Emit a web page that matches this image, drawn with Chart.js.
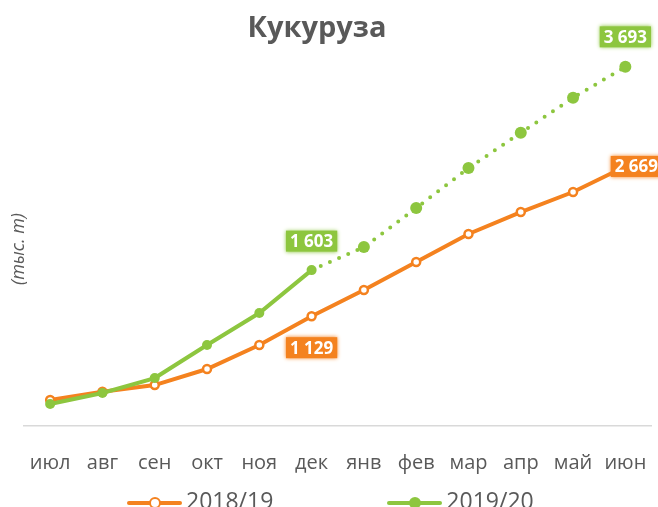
<!DOCTYPE html>
<html>
<head>
<meta charset="utf-8">
<script src="https://cdn.jsdelivr.net/npm/chart.js"></script>
<style>
  body { margin: 0; background: #fff; }
  #wrap { position: relative; width: 658px; height: 507px; overflow: hidden; }
  #legend { position: absolute; left: 127px; top: 491px; display: flex; gap: 114px;
            font: 23px/23px 'Open Sans', sans-serif; color: #595959; }
  .item { display: flex; align-items: center; height: 23px; }
  .item span.txt { position: relative; top: -2px; white-space: nowrap; }
  .swatch { position: relative; width: 55px; height: 4px; margin-right: 4px; border-radius: 2px; }
  .swatch i { position: absolute; left: 50%; top: 50%; border-radius: 50%; transform: translate(-50%, -50%); box-sizing: border-box; }
</style>
</head>
<body>
<div id="wrap">
  <canvas id="grafico" width="658" height="507"></canvas>
  <div id="legend"></div>
</div>
<script>
// Данные (тыс. т), накопленным итогом по месяцам сезона
const months = ['июл', 'авг', 'сен', 'окт', 'ноя', 'дек', 'янв', 'фев', 'мар', 'апр', 'май', 'июн'];
const seriesNames = ['2018/19', '2019/20'];
const values1819 = [267, 353, 421, 586, 833, 1129, 1398, 1686, 1974, 2200, 2406, 2669];
const values1920 = [226, 339, 493, 833, 1162, 1603, 1840, 2241, 2652, 3015, 3375, 3693];
const forecastFrom = 5;      // с этого месяца 2019/20 - прогноз (пунктир)
const labelledMonths = [5, 11];

const ORANGE = '#F4821F';
const GREEN = '#8DC63F';
const GREY = '#595959';

Chart.defaults.font.family = "'Open Sans', sans-serif";

const fmt = v => String(v).replace(/\B(?=(\d{3})+(?!\d))/g, ' ');

// подписи значений в цветных плашках
const valueTags = {
    id: 'valueTags',
    afterDatasetsDraw(chart, args, opts) {
        const ctx = chart.ctx;
        ctx.save();
        ctx.font = 'bold 17px "Open Sans", sans-serif';
        ctx.textAlign = 'center';
        ctx.textBaseline = 'middle';
        chart.data.datasets.forEach((ds, di) => {
            const place = opts.place[di];
            const meta = chart.getDatasetMeta(di);
            labelledMonths.forEach(i => {
                const pt = meta.data[i];
                const [dx, dy] = place[i];
                const text = fmt(ds.data[i]);
                const w = ctx.measureText(text).width + 8;
                const h = 21;
                const cx = pt.x + dx, cy = pt.y + dy;
                ctx.fillStyle = ds.borderColor;
                ctx.shadowColor = ds.borderColor;
                ctx.shadowBlur = 4;
                ctx.fillRect(cx - w / 2, cy - h / 2, w, h);
                ctx.shadowBlur = 0;
                ctx.fillStyle = '#fff';
                ctx.fillText(text, cx, cy + 1);
            });
        });
        ctx.restore();
    }
};

new Chart(document.getElementById('grafico'), {
    type: 'line',
    data: {
        labels: months,
        datasets: [
            {
                label: seriesNames[1],
                data: values1920,
                borderColor: GREEN,
                backgroundColor: GREEN,
                borderWidth: 4,
                borderCapStyle: 'round',
                pointRadius: c => c.dataIndex > forecastFrom ? 6 : 5,
                pointBorderWidth: 0,
                pointBackgroundColor: GREEN,
                segment: {
                    borderDash: c => c.p0DataIndex >= forecastFrom ? [0, 10] : undefined
                },
                tension: 0
            },
            {
                label: seriesNames[0],
                data: values1819,
                borderColor: ORANGE,
                backgroundColor: '#fff',
                borderWidth: 4,
                pointRadius: 4,
                pointBorderWidth: 2.5,
                pointBorderColor: ORANGE,
                pointBackgroundColor: '#fff',
                tension: 0
            }
        ]
    },
    options: {
        responsive: false,
        animation: false,
        layout: { padding: { left: -19, right: 5, top: 0, bottom: 9 } },
        plugins: {
            legend: { display: false },
            tooltip: { enabled: false },
            title: {
                display: true, text: 'Кукуруза', color: GREY,
                font: { size: 29, weight: 'bold' },
                padding: { top: 11.6, bottom: -9.4 }
            },
            subtitle: {
                display: true, position: 'left', text: '(тыс. т)', color: GREY,
                font: { size: 18, style: 'italic' },
                padding: { top: 27, bottom: -5.6 }
            },
            valueTags: {
                place: [
                    { 5: [0, -29], 11: [0, -30] },
                    { 5: [0, 31.5], 11: [11, 0] }
                ]
            }
        },
        scales: {
            x: {
                offset: true,
                grid: { display: false, drawTicks: true, tickLength: 22 },
                border: { display: true, color: '#D9D9D9', width: 1.5 },
                ticks: { color: GREY, font: { size: 20 }, padding: 3, maxRotation: 0 },
                afterFit: s => { s.height = 72; }
            },
            y: {
                display: false,
                min: 0, max: 4000
            }
        }
    },
    plugins: [valueTags]
});

// легенда под графиком
const legend = document.getElementById('legend');
[[seriesNames[0], ORANGE, true], [seriesNames[1], GREEN, false]].forEach(([name, color, hollow]) => {
    const item = document.createElement('div');
    item.className = 'item';
    const sw = document.createElement('span');
    sw.className = 'swatch';
    sw.style.background = color;
    const dot = document.createElement('i');
    dot.style.cssText = hollow
        ? `width:12px;height:12px;background:#fff;border:2.5px solid ${color}`
        : `width:12px;height:12px;background:${color}`;
    sw.appendChild(dot);
    const txt = document.createElement('span');
    txt.className = 'txt';
    txt.textContent = name;
    item.append(sw, txt);
    legend.appendChild(item);
});
</script>
</body>
</html>
